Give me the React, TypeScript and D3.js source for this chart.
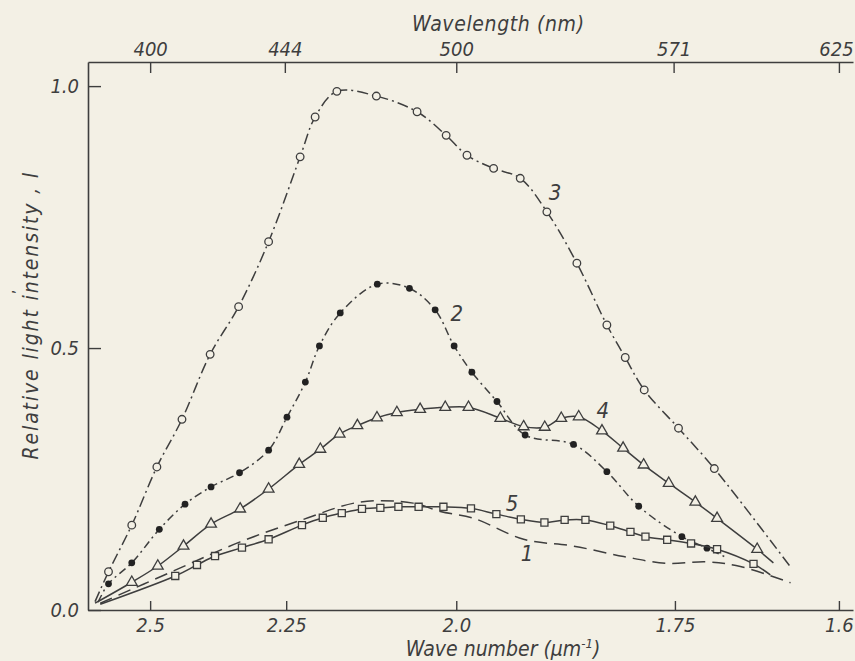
import React, { useEffect, useRef } from "react";
import * as d3 from "d3";

// Axis ticks: bottom in wave number (um^-1), top in wavelength (nm)
const waveNumberTicks = [2.5, 2.25, 2.0, 1.75, 1.6];
const waveNumberLabels = ["2.5", "2.25", "2.0", "1.75", "1.6"];
const wavelengthTicks = [400, 444, 500, 571, 625];
const intensityTicks = [0, 0.5, 1.0];

// Curve 1 - dashed, no markers (wavelength nm / relative intensity)
const curve1Nm = [383.7, 408.2, 429.4, 449.6, 468.6, 485.9, 494.8, 505.7, 522.0, 538.3, 554.7, 568.8, 581.9, 592.8, 609.2];
const curve1I = [0.013, 0.076, 0.130, 0.172, 0.206, 0.204, 0.188, 0.175, 0.135, 0.122, 0.102, 0.089, 0.092, 0.083, 0.052];

// Curve 2 - filled circles (first and last value are the line ends)
const curve2Nm = [383.0, 386.4, 394.0, 403.0, 411.4, 419.9, 429.2, 438.7, 444.7, 450.7, 455.3, 462.1, 474.2, 484.7, 493.1, 499.3, 505.1, 513.3, 522.5, 538.3, 549.2, 559.6, 573.7, 581.9, 588.6];
const curve2I = [0.015, 0.050, 0.090, 0.154, 0.202, 0.235, 0.262, 0.305, 0.368, 0.435, 0.504, 0.567, 0.622, 0.614, 0.573, 0.504, 0.454, 0.398, 0.334, 0.316, 0.264, 0.198, 0.140, 0.118, 0.099];

// Curve 3 - open circles
const curve3Nm = [382.0, 386.4, 394.0, 402.2, 410.4, 419.6, 428.9, 438.7, 449.0, 453.9, 461.0, 473.9, 487.2, 496.7, 503.5, 512.2, 520.9, 529.6, 539.4, 549.2, 555.2, 561.4, 572.6, 584.3, 609.2];
const curve3I = [0.016, 0.073, 0.162, 0.273, 0.364, 0.488, 0.579, 0.703, 0.865, 0.941, 0.990, 0.981, 0.951, 0.906, 0.868, 0.843, 0.824, 0.760, 0.662, 0.544, 0.482, 0.420, 0.347, 0.270, 0.082];

// Curve 4 - open triangles
const curve4Nm = [382.0, 394.0, 402.5, 410.9, 419.9, 429.4, 438.7, 448.7, 455.6, 461.9, 467.7, 474.1, 480.6, 488.2, 496.4, 504.0, 514.4, 522.0, 528.9, 534.3, 540.0, 547.6, 554.5, 561.2, 569.4, 578.1, 585.2, 598.3, 603.6];
const curve4I = [0.013, 0.053, 0.084, 0.122, 0.164, 0.193, 0.231, 0.278, 0.307, 0.336, 0.352, 0.367, 0.377, 0.383, 0.387, 0.387, 0.366, 0.350, 0.349, 0.366, 0.369, 0.342, 0.309, 0.277, 0.242, 0.206, 0.175, 0.116, 0.090];

// Curve 5 - open squares
const curve5Nm = [383.7, 408.2, 415.3, 421.2, 430.0, 438.7, 449.6, 456.4, 462.6, 469.2, 475.2, 481.1, 487.7, 495.8, 504.8, 513.1, 521.1, 528.8, 535.4, 542.2, 550.3, 556.9, 561.8, 568.9, 576.7, 585.2, 597.1, 602.6];
const curve5I = [0.011, 0.065, 0.086, 0.103, 0.119, 0.135, 0.162, 0.176, 0.185, 0.193, 0.195, 0.197, 0.197, 0.197, 0.194, 0.183, 0.173, 0.167, 0.172, 0.172, 0.161, 0.149, 0.140, 0.134, 0.127, 0.116, 0.088, 0.067];

// Curve number labels (wavelength, intensity)
const labelText = ["1", "2", "3", "4", "5"];
const labelNm = [523.1, 500.2, 532.3, 547.9, 518.2];
const labelI = [0.109, 0.567, 0.798, 0.382, 0.204];

const INK = "#3e3e3e";
const PAPER = "#f3f0e5";
const FONT = "'Liberation Sans Narrow', 'DejaVu Sans Condensed', 'Liberation Sans', sans-serif";

export default function App() {
  const svgRef = useRef<SVGSVGElement>(null);

  useEffect(() => {
    const svg = d3.select(svgRef.current);
    svg.selectAll("*").remove();

    const x = d3.scaleLinear().domain([379.7, 629.6]).range([88, 853]);
    const y = d3.scaleLinear().domain([0, 1.046]).range([610, 62]);

    svg.append("rect").attr("width", 855).attr("height", 661).attr("fill", PAPER);

    // Axes
    const bottom = svg.append("g").attr("transform", "translate(0,610)")
      .call(d3.axisBottom(x)
        .tickValues(waveNumberTicks.map(v => 1000 / v))
        .tickFormat((_, i) => waveNumberLabels[i])
        .tickSizeInner(-9).tickSizeOuter(0).tickPadding(8));

    const top = svg.append("g").attr("transform", "translate(0,62)")
      .call(d3.axisTop(x)
        .tickValues(wavelengthTicks)
        .tickFormat(d3.format("d"))
        .tickSizeInner(-11).tickSizeOuter(0).tickPadding(6));

    const left = svg.append("g").attr("transform", "translate(88,0)")
      .call(d3.axisLeft(y)
        .tickValues(intensityTicks)
        .tickFormat(d3.format(".1f"))
        .tickSizeInner(-13).tickSizeOuter(0).tickPadding(9));

    [bottom, top, left].forEach(g => {
      g.select(".domain").attr("stroke", INK).attr("stroke-width", 1.6);
      g.selectAll(".tick line").attr("stroke", INK).attr("stroke-width", 1.4);
      g.selectAll("text")
        .attr("fill", INK)
        .style("font-family", FONT)
        .style("font-style", "italic")
        .style("font-size", "20px");
    });
    // keep the last top label inside the picture
    top.selectAll(".tick text").filter((_, i) => i === wavelengthTicks.length - 1).attr("dx", -3);

    // Axis titles
    svg.append("text")
      .attr("x", 498).attr("y", 31)
      .attr("text-anchor", "middle")
      .attr("textLength", 172)
      .attr("fill", INK)
      .style("font-family", FONT).style("font-style", "italic").style("font-size", "21px")
      .text("Wavelength (nm)");

    const xt = svg.append("text")
      .attr("x", 503).attr("y", 656)
      .attr("text-anchor", "middle")
      .attr("fill", INK)
      .style("font-family", FONT).style("font-style", "italic").style("font-size", "21px");
    xt.append("tspan").text("Wave number (\u03bcm");
    xt.append("tspan").attr("dy", -8).style("font-size", "13px").text("-1");
    xt.append("tspan").attr("dy", 8).text(")");

    svg.append("text")
      .attr("transform", "translate(38,316) rotate(-90)")
      .attr("text-anchor", "middle")
      .attr("textLength", 287)
      .attr("fill", INK)
      .style("font-family", FONT).style("font-style", "italic").style("font-size", "21px")
      .text("Relative light intensity , I");
    // small printed accent mark above the y title
    svg.append("text")
      .attr("transform", "translate(24,292) rotate(-90)")
      .attr("text-anchor", "middle")
      .attr("fill", INK)
      .style("font-family", FONT).style("font-size", "16px")
      .text("\u2019");

    // Curves
    const line = d3.line<[number, number]>()
      .x(d => x(d[0]))
      .y(d => y(d[1]))
      .curve(d3.curveCatmullRom.alpha(0.5));

    const series = [
      { nm: curve1Nm, val: curve1I, dash: "13,7", marker: null as null | string },
      { nm: curve2Nm, val: curve2I, dash: "8,4,2,4", marker: "filled" },
      { nm: curve3Nm, val: curve3I, dash: "11,4,2,4", marker: "circle" },
      { nm: curve4Nm, val: curve4I, dash: "none", marker: "triangle" },
      { nm: curve5Nm, val: curve5I, dash: "none", marker: "square" },
    ];

    series.forEach(s => {
      const pts = s.nm.map((v, i) => [v, s.val[i]] as [number, number]);
      svg.append("path")
        .attr("d", line(pts))
        .attr("fill", "none")
        .attr("stroke", INK)
        .attr("stroke-width", 1.5)
        .attr("stroke-dasharray", s.dash);

      if (!s.marker) return;
      // the first and last points are only line ends
      const marks = pts.slice(1, -1);
      const g = svg.append("g");
      if (s.marker === "filled") {
        g.selectAll("circle").data(marks).enter().append("circle")
          .attr("cx", d => x(d[0])).attr("cy", d => y(d[1])).attr("r", 3.4)
          .attr("fill", "#222");
      } else if (s.marker === "circle") {
        g.selectAll("circle").data(marks).enter().append("circle")
          .attr("cx", d => x(d[0])).attr("cy", d => y(d[1])).attr("r", 3.8)
          .attr("fill", PAPER).attr("stroke", INK).attr("stroke-width", 1.3);
      } else {
        const sym = s.marker === "triangle"
          ? d3.symbol().type(d3.symbolTriangle).size(50)
          : d3.symbol().type(d3.symbolSquare).size(50);
        g.selectAll("path").data(marks).enter().append("path")
          .attr("transform", d => `translate(${x(d[0])},${y(d[1])})`)
          .attr("d", sym())
          .attr("fill", PAPER).attr("stroke", INK).attr("stroke-width", 1.3);
      }
    });

    // Curve numbers
    svg.append("g").selectAll("text").data(labelText).enter().append("text")
      .attr("x", (_, i) => x(labelNm[i]))
      .attr("y", (_, i) => y(labelI[i]))
      .attr("dy", "0.36em")
      .attr("text-anchor", "middle")
      .attr("fill", INK)
      .style("font-family", FONT).style("font-style", "italic").style("font-size", "22px")
      .text(d => d);
  }, []);

  return (
    <>
      <style>{`body{margin:0;background:${PAPER}}`}</style>
      <svg ref={svgRef} width={855} height={661} style={{ display: "block" }} />
    </>
  );
}
